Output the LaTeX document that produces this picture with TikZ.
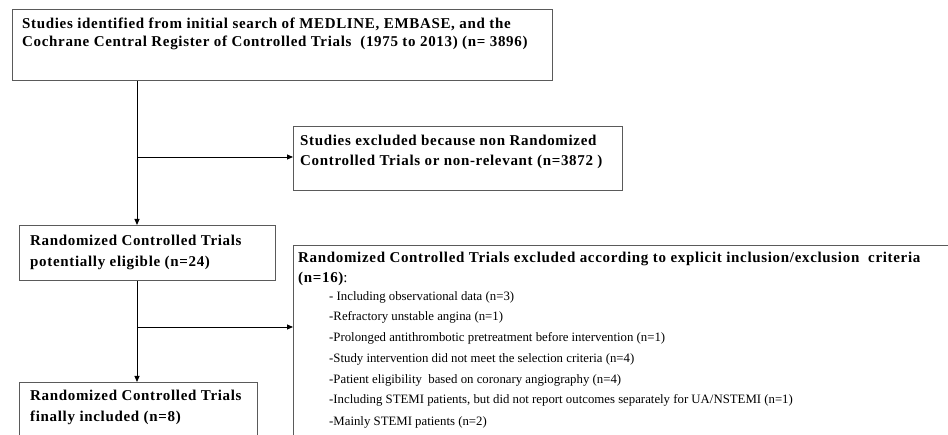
\documentclass[tikz,border=0pt]{standalone}
\usepackage{fontspec}
\setmainfont{Liberation Serif}
\usetikzlibrary{arrows.meta}
\definecolor{boxline}{HTML}{5A5A5A}
\newfontfamily\headfont[LetterSpace=4.5]{Liberation Serif}
\tikzset{
  box/.style={draw=boxline, line width=1pt, anchor=north west, inner sep=0pt, minimum width=#1},
  box/.default=10pt,
  txt/.style={anchor=base west, inner sep=0pt, font=\headfont\fontsize{15}{18}\selectfont\bfseries, align=left},
  item/.style={anchor=base west, inner sep=0pt, font=\fontsize{12.8}{17}\selectfont},
  conn/.style={draw=black, line width=0.9pt},
  arr/.style={conn, -{Triangle[length=6pt,width=5pt]}}
}
\begin{document}
\begin{tikzpicture}[x=1pt,y=-1pt]
\useasboundingbox (0,0) rectangle (948,435);
\clip (0,0) rectangle (948,435);
\fill[white] (0,0) rectangle (948,435);
% boxes
\node[box=540pt, minimum height=71pt] (b1) at (12,9) {};
\node[box=329pt, minimum height=64pt] (b2) at (293,126) {};
\node[box=256pt, minimum height=55pt] (b3) at (19,225) {};
\node[box=700pt, minimum height=220pt] (b4) at (293,245) {};
\node[box=238pt, minimum height=80pt] (b5) at (19,382) {};
% texts
\node[txt] (t1a) at (22,29) {Studies identified from initial search of MEDLINE, EMBASE, and the};
\node[txt] (t1b) at (22,47) {Cochrane Central Register of Controlled Trials\ \ (1975 to 2013) (n= 3896)};
\node[txt] (t2a) at (300,146) {Studies excluded because non Randomized};
\node[txt] (t2b) at (300,166) {Controlled Trials or non-relevant (n=3872 )};
\node[txt] (t3a) at (30,246) {Randomized Controlled Trials};
\node[txt] (t3b) at (30,267) {potentially eligible (n=24)};
\node[txt] (t5a) at (30,401) {Randomized Controlled Trials};
\node[txt] (t5b) at (30,422) {finally included (n=8)};
\node[txt] (t4a) at (298,263) {Randomized Controlled Trials excluded according to explicit inclusion/exclusion\ \ criteria};
\node[txt] (t4b) at (298,283) {(n=16)\mdseries:};
\node[item] (i1) at (329,300.5) {- Including observational\ data (n=3)};
\node[item] (i2) at (329,321) {-Refractory unstable angina (n=1)};
\node[item] (i3) at (329,342) {-Prolonged antithrombotic pretreatment before intervention (n=1)};
\node[item] (i4) at (329,363) {-Study intervention did not meet the selection criteria\ (n=4)};
\node[item] (i5) at (329,383.5) {-Patient eligibility\ \ based on coronary\ angiography (n=4)};
\node[item] (i6) at (329,404) {-Including STEMI patients, but did not report\ outcomes separately for UA/NSTEMI (n=1)};
\node[item] (i7) at (329,425) {-Mainly\ STEMI patients (n=2)};
% connectors
\coordinate (j1) at (137,157);
\coordinate (j2) at (137,327);
\draw[arr] (b1.south -| j1) -- (b3.north -| j1);
\draw[arr] (j1) -- (j1 -| b2.west);
\draw[arr] (b3.south -| j2) -- (b5.north -| j2);
\draw[arr] (j2) -- (j2 -| b4.west);
\end{tikzpicture}
\end{document}
